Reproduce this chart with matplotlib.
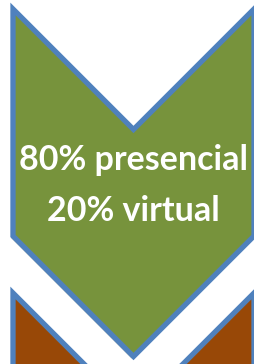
import matplotlib
matplotlib.use("Agg")
import matplotlib.pyplot as plt
from matplotlib.patches import Polygon
import matplotlib.patheffects as pe

# chevron stack, top to bottom
label_lines = [["80% presencial", "20% virtual"], []]
fill_colors = ["#77933C", "#984807"]
edge_color = "#4F81BD"

W, H = 255, 364
fig = plt.figure(figsize=(W / 100, H / 100), dpi=100)
ax = fig.add_axes([0, 0, 1, 1])
ax.set_xlim(0, W)
ax.set_ylim(H, 0)
ax.axis("off")

left, right = 13, 254
mid = (left + right) / 2
depth = mid - left     # 45 degree arms
height = 227           # length of the vertical sides
tops = [9, 293]

for top, lines, col in zip(tops, label_lines, fill_colors):
    pts = [(left, top), (mid, top + depth), (right, top), (right, top + height),
           (mid, top + height + depth), (left, top + height)]
    poly = Polygon(pts, closed=True, facecolor=col, edgecolor=edge_color,
                   linewidth=3.8, joinstyle="miter",
                   path_effects=[pe.SimplePatchShadow(offset=(-1.5, -1.5), alpha=0.25),
                                 pe.Normal()])
    ax.add_patch(poly)
    for i, line in enumerate(lines):
        ax.text(mid, 160 + 51 * i, line, ha="center", va="center", color="white",
                fontsize=24.5, fontweight="bold", family=["Lato", "DejaVu Sans"])

fig.savefig("out.png", dpi=100)
